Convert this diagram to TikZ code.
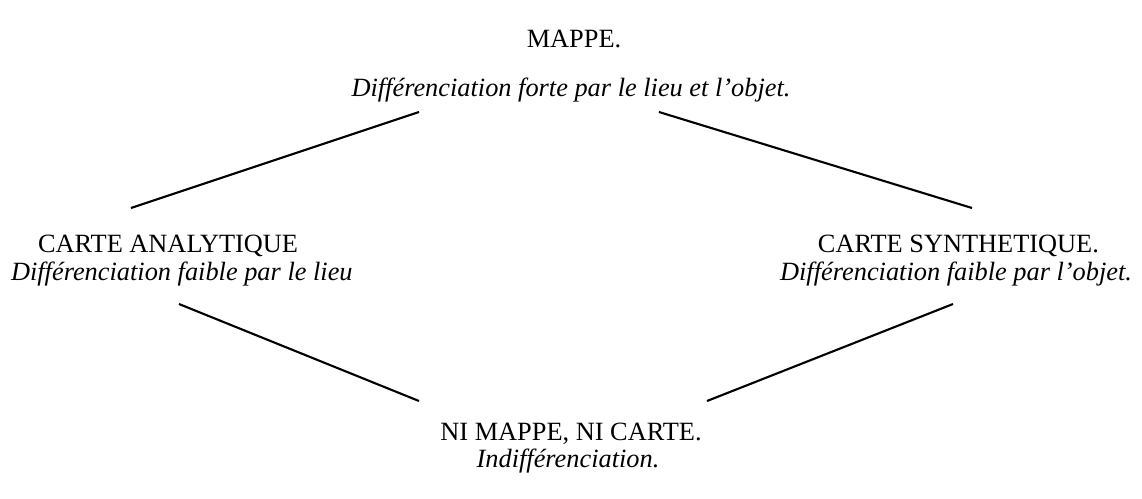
\documentclass[tikz,border=0pt]{standalone}
\usepackage{fontspec}
\setmainfont{Liberation Serif}
\begin{document}
\begin{tikzpicture}[x=0.02cm,y=-0.02cm,very thick,
heading/.style={inner sep=0pt,font=\fontsize{15}{18}\selectfont},
gloss/.style={inner sep=0pt,font=\fontsize{15}{18}\selectfont\itshape}]
\useasboundingbox (0,0) rectangle (1142,498);
\draw (574,47) node[heading,anchor=base] (M) {MAPPE.};
\draw (571,96) node[gloss,anchor=base] (Mt) {Différenciation forte par le lieu et l’objet.};
\draw (37,252) node[heading,anchor=base west] (A) {CARTE ANALYTIQUE};
\draw (10,280) node[gloss,anchor=base west] (At) {Différenciation faible par le lieu};
\draw (1100,252) node[heading,anchor=base east] (S) {CARTE SYNTHETIQUE.};
\draw (1133,280) node[gloss,anchor=base east] (St) {Différenciation faible par l’objet.};
\draw (571,440) node[heading,anchor=base] (N) {NI MAPPE, NI CARTE.};
\draw (568,467) node[gloss,anchor=base] (Nt) {Indifférenciation.};
\draw ([shift={(-152,16)}]Mt.base) -- ([shift={(94,-44)}]A.base west);
\draw ([shift={(88,16)}]Mt.base) -- ([shift={(-128,-44)}]S.base east);
\draw ([shift={(169,24)}]At.base west) -- ([shift={(-152,-39)}]N.base);
\draw ([shift={(-180,24)}]St.base east) -- ([shift={(136,-39)}]N.base);
\end{tikzpicture}
\end{document}
